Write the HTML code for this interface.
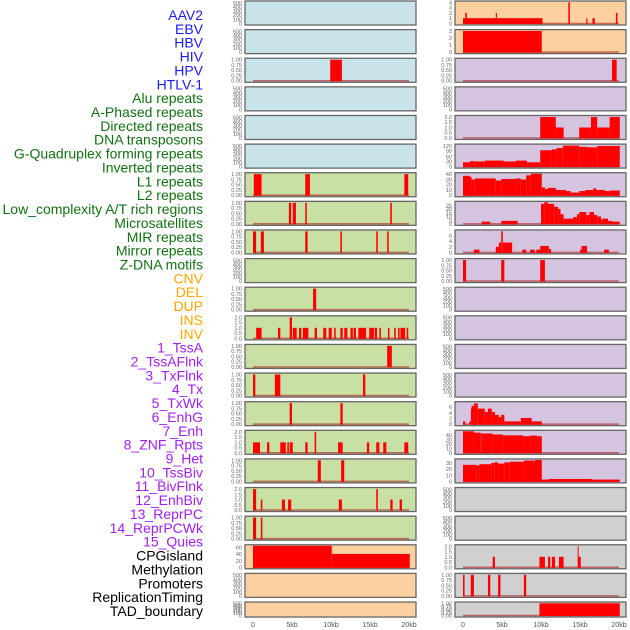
<!DOCTYPE html>
<html><head><meta charset="utf-8">
<style>
html,body{margin:0;padding:0;background:#fff;}
#wrap{position:relative;width:630px;height:630px;overflow:hidden;font-family:"Liberation Sans",sans-serif;}
</style></head>
<body>
<div id="wrap">
<svg id="chart" width="630" height="630" xmlns="http://www.w3.org/2000/svg"></svg>
</div>
<script>
// ---- categories ----
const labelNames = ["AAV2","EBV","HBV","HIV","HPV","HTLV-1","Alu repeats","A-Phased repeats","Directed repeats","DNA transposons","G-Quadruplex forming repeats","Inverted repeats","L1 repeats","L2 repeats","Low_complexity A/T rich regions","Microsatellites","MIR repeats","Mirror repeats","Z-DNA motifs","CNV","DEL","DUP","INS","INV","1_TssA","2_TssAFlnk","3_TxFlnk","4_Tx","5_TxWk","6_EnhG","7_Enh","8_ZNF_Rpts","9_Het","10_TssBiv","11_BivFlnk","12_EnhBiv","13_ReprPC","14_ReprPCWk","15_Quies","CPGisland","Methylation","Promoters","ReplicationTiming","TAD_boundary"];
const labelGroups = [0,0,0,0,0,0,1,1,1,1,1,1,1,1,1,1,1,1,1,2,2,2,2,2,3,3,3,3,3,3,3,3,3,3,3,3,3,3,3,4,4,4,4,4];
const groupText = ["#1c1cf0","#127012","#ffa500","#a020f0","#000000"];
const groupBg = ["#c9e3eb","#c8e0a4","#fdd19f","#d5c4e0","#d0d0d0"];
const xTickLabels = ["0","5kb","10kb","15kb","20kb"];
const xTickValues = [0,5,10,15,20];

// ---- per-panel y maxima and tick labels ----
const yMax = [520,520,1.02,520,520,520,1.02,1.02,1.02,520,1.02,2.05,1.02,1.02,1.02,2.05,1.02,2.05,1.02,66,520,520,
              4.05,3.05,1.02,520,2.05,125,41,29,7.6,1.02,520,520,520,520,7.6,48,35,520,520,2.05,1.02,1.02];
const tickSets = {
  e:[0,100,200,300,400,500], p:[0,0.25,0.5,0.75,1], h:[0,0.5,1,1.5,2],
  c:[0,20,40,60], i:[0,1,2,3,4], v:[0,1,2,3], t:[0,30,60,90,120], w:[0,10,20,30,40],
  g:[0,5,10,15,20,25], s:[0,2,4,6], b:[0,10,20,30,40], r:[0,10,20,30]
};
const tickKind = ["e","e","p","e","e","e","p","p","p","e","p","h","p","p","p","h","p","h","p","c","e","e",
                  "i","v","p","e","h","t","w","g","s","p","e","e","e","e","s","b","r","e","e","h","p","p"];

// ---- series values: [startKb, endKb, value] ----
const seg0=[],seg1=[];
const seg2=[[9.9,11.4,1]];
const seg3=[],seg4=[],seg5=[];
const seg6=[[0.1,1.1,1],[6.7,7.3,1],[19.4,19.9,1]];
const seg7=[[4.6,4.9,1],[5.1,5.5,1],[6.7,6.9,1],[17.6,17.8,1]];
const seg8=[[0,0.4,1],[1.0,1.4,1],[6.7,7.0,1],[11.2,11.4,1],[15.8,16.0,1],[17.2,17.4,1]];
const seg9=[];
const seg10=[[7.7,8.1,1]];
const seg11=[[0.4,1.1,1],[3.2,3.5,1],[4.7,5.0,2],[5.1,5.6,1],[5.9,6.2,1],[6.4,7.1,1],[7.9,8.2,1],[9.0,9.4,1],[9.7,10.1,1],[10.4,10.6,1],[11.2,11.5,1],[11.7,12.1,1],[12.5,12.8,1],[12.9,13.2,1],[13.5,14.5,1],[14.9,15.5,1],[15.6,15.9,1],[16.2,16.4,1],[17.3,17.5,1],[18.1,18.3,1],[18.6,18.8,1],[18.9,19.5,1],[19.7,19.9,1]];
const seg12=[[17.2,17.8,1]];
const seg13=[[0,0.3,1],[2.8,3.5,1],[14.1,14.4,1]];
const seg14=[[4.7,5.0,1],[11.2,11.5,1]];
const seg15=[[0,0.9,1],[1.8,2.1,1],[3.5,4.2,1],[4.4,4.6,1],[4.7,5.1,1],[6.7,7.0,1],[7.9,8.1,2],[10.9,11.5,1],[14.6,14.9,1],[15.8,16.2,1],[16.7,17.1,1],[19.4,19.9,1]];
const seg16=[[8.3,8.7,1],[11.3,11.7,1]];
const seg17=[[0,0.4,2],[1.0,1.2,1],[3.7,4.1,1],[4.5,4.9,1],[11.0,11.4,1],[15.8,16.0,2],[17.6,17.9,1],[18.8,19.1,1]];
const seg18=[[0,0.4,1],[1.0,1.2,1]];
const seg19=[[0,10.1,66],[10.1,20.1,41]];
const seg20=[],seg21=[];
const seg22=[[0,10.2,1],[0.3,0.5,2],[4.2,4.35,2],[13.5,13.7,4],[15.8,15.95,1],[16.6,16.9,1],[19.6,19.8,2]];
const seg23=[[0,10.1,3]];
const seg24=[[19.1,19.7,1]];
const seg25=[];
const seg26=[[9.9,11.9,2],[11.9,12.9,1],[14.9,16.4,1],[16.4,17.2,2],[17.2,18.8,1],[18.8,20.1,2]];
const seg27=[[0,0.9,25],[0.9,1.5,32],[1.5,2.8,30],[2.8,5.2,35],[5.2,6.8,30],[6.8,8.2,35],[8.2,9.9,25],[9.9,11.4,95],[11.4,12.0,100],[12.0,12.8,108],[12.8,14.9,122],[14.9,15.9,115],[15.9,17.2,112],[17.2,20.1,120]];
const seg28=[[0,0.9,37],[0.9,1.1,35],[1.1,1.5,30],[1.5,4.2,32],[4.2,4.9,28],[4.9,6.8,31],[6.8,7.4,32],[7.4,8.1,30],[8.1,8.7,38],[8.7,10.1,41],[10.1,10.5,15],[10.5,10.9,12],[10.9,11.9,14],[11.9,13.2,10],[13.2,13.8,8],[13.8,14.9,5],[14.9,15.7,8],[15.7,16.7,10],[16.7,17.1,13],[17.1,18.2,10],[18.2,18.8,8],[18.8,20.1,9]];
const seg29=[[2.4,3.5,3],[4.9,7.0,4],[10.0,10.4,27],[10.4,10.9,29],[10.9,11.7,27],[11.7,12.2,23],[12.2,12.5,20],[12.5,12.9,13],[12.9,14.1,7],[14.1,14.6,9],[14.6,14.9,13],[14.9,15.8,16],[15.8,16.2,12],[16.2,16.8,16],[16.8,17.2,12],[17.2,17.7,10],[17.7,17.9,6],[17.9,18.6,7],[18.6,19.1,4],[19.1,20.1,3]];
const seg30=[[1.4,2.1,1],[4.2,4.6,2],[4.6,4.9,3.5],[4.9,5.1,7.5],[5.1,6.3,3.5],[7.6,8.1,1],[8.6,9.2,1],[9.4,9.9,1],[9.9,11.0,2.3],[11.0,11.3,1.2],[15.0,15.2,1],[15.2,15.9,2.3],[18.1,18.7,1]];
const seg31=[[0,0.4,1],[4.9,5.3,1],[9.9,10.5,1]];
const seg32=[],seg33=[],seg34=[],seg35=[];
const seg36=[[0,0.3,1],[0.8,1.0,1],[1.0,1.1,5.5],[1.1,1.4,6.5],[1.4,1.9,7.3],[1.9,2.8,5.5],[2.8,3.2,4.3],[3.2,3.7,5.5],[3.7,4.1,4.3],[4.1,4.6,3.3],[4.6,4.9,2.5],[4.9,5.3,3.3],[5.3,7.4,1],[7.4,8.8,2.2],[8.8,10.1,1]];
const seg37=[[0,1.4,48],[1.4,2.2,45],[2.2,2.4,44],[2.4,3.8,43],[3.8,5.1,41],[5.1,7.7,39],[7.7,8.6,37],[8.6,9.5,38.5],[9.5,10.1,37]];
const seg38=[[0,1.7,27],[1.7,2.1,26],[2.1,3.6,28],[3.6,4.0,30],[4.0,4.5,31],[4.5,5.3,29],[5.3,6.0,31],[6.0,7.8,32],[7.8,9.1,34],[9.1,9.2,32],[9.2,10.1,35],[10.1,11.0,3],[11.0,16.5,4],[16.5,20.1,3]];
const seg39=[],seg40=[];
const seg41=[[3.8,4.1,1],[9.8,10.5,1],[10.9,11.2,1],[11.4,11.8,1],[12.3,12.9,1],[14.7,14.8,2],[14.8,15.1,1]];
const seg42=[[0,0.2,1],[1.0,1.4,1],[3.2,3.5,1],[4.5,4.8,1],[7.8,8.1,1]];
const seg43=[[9.8,20.1,1]];
const segments=[seg0,seg1,seg2,seg3,seg4,seg5,seg6,seg7,seg8,seg9,seg10,seg11,seg12,seg13,seg14,seg15,seg16,seg17,seg18,seg19,seg20,seg21,seg22,seg23,seg24,seg25,seg26,seg27,seg28,seg29,seg30,seg31,seg32,seg33,seg34,seg35,seg36,seg37,seg38,seg39,seg40,seg41,seg42,seg43];

const NS="http://www.w3.org/2000/svg";
const svg=document.getElementById('chart');
function mk(tag,attrs){const e=document.createElementNS(NS,tag);for(const k in attrs)e.setAttribute(k,attrs[k]);return e;}

// labels
labelNames.forEach((n,i)=>{
  const t=mk('text',{x:203,y:20+i*13.86,'text-anchor':'end','font-size':'14',fill:groupText[labelGroups[i]],'font-family':'Liberation Sans, sans-serif'});
  
  
  t.textContent=n;svg.appendChild(t);
});

const pitch=28.62;
for(let p=0;p<44;p++){
  const col=p<22?0:1, row=p%22;
  const fx=col?455:245, fw=171;
  const top=1+row*pitch, h=row===21?15:24;
  const x0=fx+8, pxPerKb=7.8;
  const xs=v=>x0+v*pxPerKb;
  const yb=top+h-1.5, yt=top+1;
  const ys=v=>yb-(v/yMax[p])*(yb-yt);
  const g=mk('g',{});
  
  
  g.appendChild(mk('rect',{x:fx,y:top,width:fw,height:h,fill:groupBg[labelGroups[p]]}));
  const segs=segments[p];
  if(segs.length){
    const bl=mk('rect',{x:xs(0),y:ys(0)-0.8,width:xs(20)-xs(0),height:1.6,fill:'#b02020',opacity:'0.6'});
    
    
    g.appendChild(bl);
  }
  segs.forEach(s=>{
    const r=mk('rect',{x:xs(s[0]),y:ys(s[2]),width:Math.max(1,xs(s[1])-xs(s[0])),height:ys(0)-ys(s[2])+0.5,fill:'#ff0000'});
    
    
    g.appendChild(r);
  });
  g.appendChild(mk('rect',{x:fx,y:top,width:fw,height:h,fill:'none',stroke:'#666',"stroke-width":1.3}));
  // y ticks
  const ticks=tickSets[tickKind[p]];
  ticks.forEach(v=>{
    const lbl = tickKind[p]==='p'?v.toFixed(2):(tickKind[p]==='h'?v.toFixed(1):String(v));
    const t=mk('text',{x:fx-3,y:ys(v)+2,'text-anchor':'end','font-size':'5.5',fill:'#666'});
    
    
    t.textContent=lbl;g.appendChild(t);
  });
  svg.appendChild(g);
  if(row===21){
    xTickValues.forEach((v,k)=>{
      const t=mk('text',{x:xs(v),y:627,'text-anchor':'middle','font-size':'7',fill:'#555'});
      
      
      t.textContent=xTickLabels[k];svg.appendChild(t);
    });
  }
}
</script>
</body></html>
